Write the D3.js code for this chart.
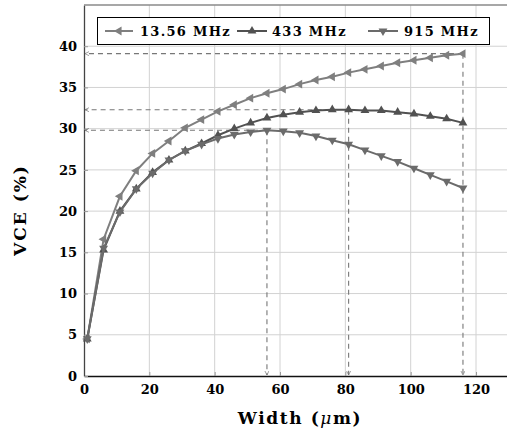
<!DOCTYPE html>
<html>
<head>
<meta charset="utf-8">
<script src="https://cdn.jsdelivr.net/npm/d3@7"></script>
<style>
  html, body { margin: 0; padding: 0; background: #fff; }
  svg { display: block; }
  text { font-family: "DejaVu Serif", serif; font-weight: bold; fill: #000; }
</style>
</head>
<body>
<svg id="chart" width="507" height="436"></svg>
<script>
// ---------- data ----------
const widths = [1, 6, 11, 16, 21, 26, 31, 36, 41, 46, 51, 56, 61, 66, 71, 76, 81, 86, 91, 96, 101, 106, 111, 116];
const vce13 = [4.5, 16.6, 21.8, 24.9, 27.0, 28.5, 30.1, 31.1, 32.1, 32.9, 33.7, 34.3, 34.8, 35.4, 35.9, 36.3, 36.8, 37.2, 37.6, 38.0, 38.3, 38.6, 38.9, 39.1];
const vce433 = [4.5, 15.3, 20.0, 22.7, 24.7, 26.2, 27.3, 28.2, 29.2, 30.0, 30.7, 31.3, 31.7, 32.0, 32.2, 32.3, 32.3, 32.2, 32.2, 32.0, 31.8, 31.5, 31.2, 30.7];
const vce915 = [4.5, 15.5, 19.9, 22.7, 24.6, 26.2, 27.3, 28.1, 28.8, 29.3, 29.6, 29.8, 29.7, 29.5, 29.1, 28.6, 28.1, 27.4, 26.7, 26.0, 25.2, 24.4, 23.6, 22.8];
const seriesNames = ["13.56 MHz", "433 MHz", "915 MHz"];
const peakX = [116, 81, 56];
const peakY = [39.1, 32.3, 29.8];
const xTicks = [0, 20, 40, 60, 80, 100, 120];
const yTicks = [0, 5, 10, 15, 20, 25, 30, 35, 40];
const xDomain = [0, 130];
const yDomain = [0, 45];

// ---------- layout ----------
const svg = d3.select("#chart");
const pLeft = 84, pRight = 508.7, pTop = 5, pBottom = 376;
const x = d3.scaleLinear().domain(xDomain).range([pLeft, pRight]);
const y = d3.scaleLinear().domain(yDomain).range([pBottom, pTop]);

const colors = ["#7f7f7f", "#515151", "#6b6b6b"];
const rot = [-90, 0, 180]; // left, up, down triangles
const allSeries = [vce13, vce433, vce915];

// grid
const grid = svg.append("g");
grid.selectAll("line.vx").data(xTicks.filter(d => d > 0)).join("line")
  .attr("x1", d => x(d)).attr("x2", d => x(d)).attr("y1", pTop).attr("y2", pBottom)
  .attr("stroke", "#d2d2d2").attr("stroke-width", 1);
grid.selectAll("line.hy").data(yTicks.filter(d => d > 0)).join("line")
  .attr("x1", pLeft).attr("x2", pRight).attr("y1", d => y(d)).attr("y2", d => y(d))
  .attr("stroke", "#d2d2d2").attr("stroke-width", 1);

// axes via d3
const xAxis = d3.axisBottom(x).tickValues(xTicks).tickSizeInner(-4).tickSizeOuter(0).tickPadding(9);
const yAxis = d3.axisLeft(y).tickValues(yTicks).tickSizeInner(-4).tickSizeOuter(0).tickPadding(7);
const gx = svg.append("g").attr("transform", `translate(0,${pBottom})`).call(xAxis);
const gy = svg.append("g").attr("transform", `translate(${pLeft},0)`).call(yAxis);
[gx, gy].forEach(g => {
  g.selectAll(".tick line").attr("stroke", "#999");
  g.selectAll("text").style("font-family", "DejaVu Serif").style("font-weight", "bold")
    .style("font-size", "13px").attr("fill", "#000");
});
gx.select(".domain").attr("stroke", "#111").attr("stroke-width", 1.3);
gy.select(".domain").attr("stroke", "#444").attr("stroke-width", 1.3);
// top frame line
svg.append("line").attr("x1", pLeft).attr("x2", pRight).attr("y1", pTop).attr("y2", pTop)
  .attr("stroke", "#8a8a8a").attr("stroke-width", 1.3);

// dashed guide lines with arrows
const defs = svg.append("defs");
defs.append("marker").attr("id", "arr").attr("viewBox", "0 0 10 10")
  .attr("refX", 9).attr("refY", 5).attr("markerWidth", 5).attr("markerHeight", 5)
  .attr("orient", "auto-start-reverse").attr("markerUnits", "userSpaceOnUse")
  .append("path").attr("d", "M1,1 L9,5 L1,9").attr("fill", "none")
  .attr("stroke", "#777").attr("stroke-width", 1.4);
const guides = svg.append("g");
peakX.forEach((px, i) => {
  guides.append("line")
    .attr("x1", x(px)).attr("y1", y(peakY[i])).attr("x2", x(0) + 1).attr("y2", y(peakY[i]))
    .attr("stroke", "#777").attr("stroke-width", 1.1).attr("stroke-dasharray", "5,4")
    .attr("marker-end", "url(#arr)");
  guides.append("line")
    .attr("x1", x(px)).attr("y1", y(peakY[i])).attr("x2", x(px)).attr("y2", y(0) - 1)
    .attr("stroke", "#777").attr("stroke-width", 1.1).attr("stroke-dasharray", "5,4")
    .attr("marker-end", "url(#arr)");
});

// series
const line = d3.line().x(d => x(d[0])).y(d => y(d[1]));
const sym = d3.symbol().type(d3.symbolTriangle).size(34);
allSeries.forEach((vals, i) => {
  const pts = widths.map((w, k) => [w, vals[k]]);
  const g = svg.append("g");
  g.append("path").datum(pts).attr("d", line).attr("fill", "none")
    .attr("stroke", colors[i]).attr("stroke-width", 2);
  g.selectAll("path.m").data(pts).join("path").attr("class", "m")
    .attr("d", sym)
    .attr("transform", d => `translate(${x(d[0])},${y(d[1])}) rotate(${rot[i]})`)
    .attr("fill", colors[i]);
});

// legend
const leg = svg.append("g");
leg.append("rect").attr("x", 97.5).attr("y", 17.5).attr("width", 392).attr("height", 27)
  .attr("fill", "#fff").attr("stroke", "#000").attr("stroke-width", 1);
const legLine = [[105, 133], [237, 267], [368, 398]];
const legText = [140, 272, 404];
seriesNames.forEach((name, i) => {
  const cy = 31;
  leg.append("line").attr("x1", legLine[i][0]).attr("x2", legLine[i][1])
    .attr("y1", cy).attr("y2", cy).attr("stroke", colors[i]).attr("stroke-width", 2);
  leg.append("path").attr("d", sym)
    .attr("transform", `translate(${(legLine[i][0] + legLine[i][1]) / 2},${cy}) rotate(${rot[i]})`)
    .attr("fill", colors[i]);
  leg.append("text").attr("x", legText[i]).attr("y", cy + 5)
    .style("font-size", "13px").style("letter-spacing", "1.3px").text(name);
});

// axis titles
const xt = svg.append("text").attr("x", 300).attr("y", 424)
  .attr("text-anchor", "middle").style("font-size", "17px").style("letter-spacing", "1.6px");
xt.append("tspan").text("Width (");
xt.append("tspan").style("font-style", "italic").style("font-weight", "normal").text("μ");
xt.append("tspan").text("m)");

svg.append("text").attr("transform", `translate(26,210) rotate(-90)`)
  .attr("text-anchor", "middle").style("font-size", "17px").style("letter-spacing", "2px")
  .text("VCE (%)");
</script>
</body>
</html>
